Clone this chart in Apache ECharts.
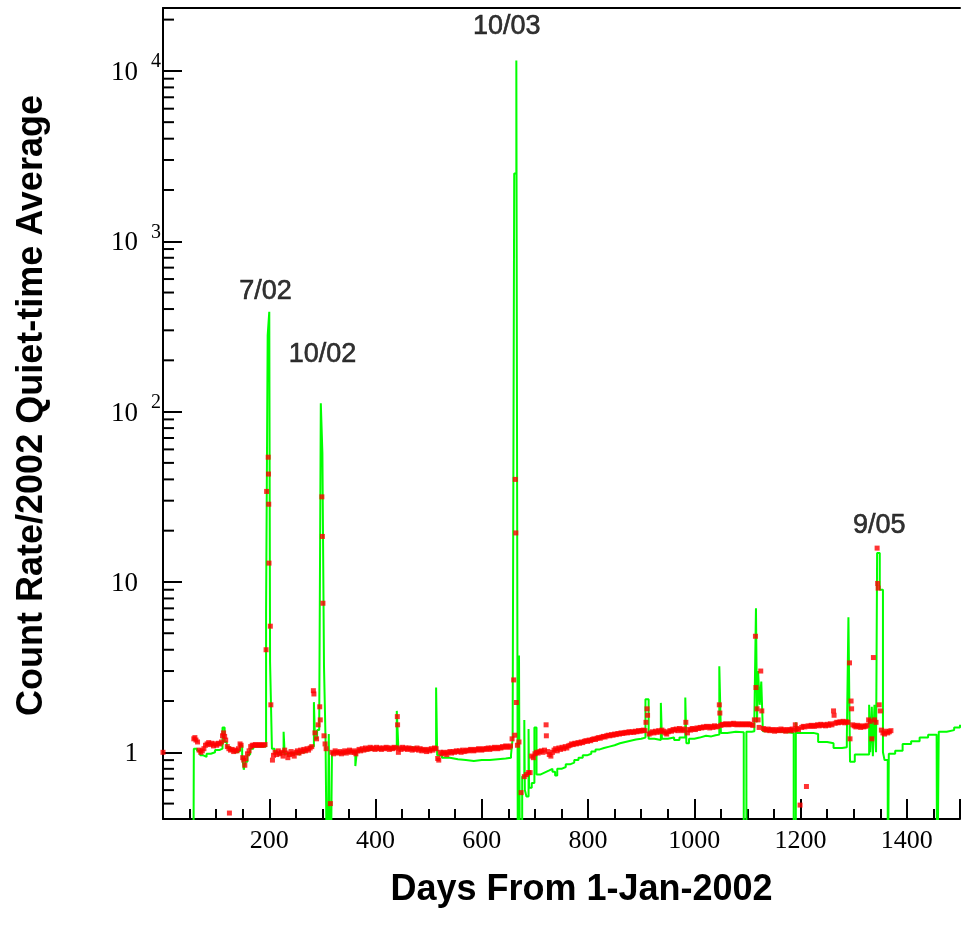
<!DOCTYPE html>
<html>
<head>
<meta charset="utf-8">
<script src="https://cdn.jsdelivr.net/npm/echarts/dist/echarts.min.js"></script>
<style>
html,body{margin:0;padding:0;background:#fff;}
#chart{width:963px;height:935px;}
</style>
</head>
<body>
<div id="chart"></div>
<script>
// ---- data ----
const xTitle = 'Days From 1-Jan-2002';
const yTitle = 'Count Rate/2002 Quiet-time Average';
const xMin = 0, xMax = 1500;
const yMin = 0.406, yMax = 23400;
const yMinorTickValues = [0.5,0.6,0.7,0.8,0.9,2,3,4,5,6,7,8,9,20,30,40,50,60,70,80,90,200,300,400,500,600,700,800,900,2000,3000,4000,5000,6000,7000,8000,9000,20000];

const annotationLabels = ['7/02','10/02','10/03','9/05'];
const annotationDays = [194, 301, 648, 1349];
const annotationValues = [505, 216, 18200, 21.3];

// green: step histogram [day, ratio]
const greenData = [
[57,0.1],[58,1.05],[64,1.02],[70,0.96],[76,0.94],[82,0.98],[90,1.0],[98,1.03],[106,1.05],[112,1.4],[116,1.15],[120,1.07],[127,1.03],[134,1.0],[140,1.02],[145,1.1],[149,0.95],[152,0.79],[155,0.88],[159,0.97],[164,1.05],[170,1.08],
[194,6.8],[197,280],[200,385],[201.5,3.4],[205,1.05],[210,1.0],[216,0.97],[222,1.0],[227,1.32],[229,0.98],[238,0.99],[248,0.97],[258,1.0],[268,1.03],[276,1.08],[284,1.97],[286,1.2],[290,1.35],[294,1.5],[297,112],[300,57],[303,3.2],[306,1.15],[309,0.1],[312,1.28],[315,0.1],[318,1.0],[328,0.98],[340,1.0],[352,1.01],[362,0.83],[365,1.02],[375,1.03],[390,1.04],[405,1.05],[420,1.04],[432,1.06],[440,1.75],[443,1.05],[455,1.07],[470,1.05],[485,1.04],[500,1.05],[510,1.06],[514,2.4],[516,0.96],[525,0.93],[540,0.91],[555,0.9],[570,0.89],[585,0.9],[600,0.9],[615,0.91],[630,0.92],[645,0.93],[655,0.97],[658,1.2],
[661,2500],[665,11500],[668,0.1],[670,3.7],[672,0.1],[676,0.72],[680,1.55],[681,0.6],[684,0.55],[688,1.37],[689,0.62],[694,0.66],[699,1.4],[703,0.74],[710,0.76],[718,0.78],[726,0.8],[733,0.77],[738,0.73],[742,0.8],[750,0.82],[758,0.85],[766,0.87],[774,0.9],[782,0.93],[790,0.96],[798,0.98],[806,1.01],[814,1.04],[822,1.06],[830,1.08],[840,1.1],[850,1.13],[860,1.15],[870,1.17],[880,1.19],[890,1.2],[900,1.22],[908,2.05],[914,1.2],[925,1.18],[937,1.95],[939,1.2],[950,1.22],[962,1.18],[972,1.22],[983,2.1],[985,1.13],[990,1.2],[1000,1.22],[1010,1.25],[1022,1.24],[1032,1.26],[1040,1.27],[1047,3.2],[1050,1.3],[1062,1.32],[1078,1.31],[1093,0.1],[1098,1.32],[1108,1.33],[1113,1.6],[1116,7.0],[1118,1.5],[1120,3.0],[1123,1.9],[1126,2.6],[1129,1.33],[1142,1.32],[1160,1.31],[1175,1.3],[1187,0.1],[1191,1.5],[1193,1.3],[1210,1.3],[1224,1.28],[1233,1.15],[1250,1.13],[1262,1.06],[1278,1.07],[1287,1.2],[1290,6.2],[1293,0.88],[1302,0.97],[1318,0.97],[1329,1.9],[1331,1.0],[1334,1.85],[1336,0.95],[1339,1.9],[1342,1.0],[1344,14.8],[1349,9.0],[1355,1.0],[1358,0.9],[1364,0.1],[1366,0.98],[1378,1.02],[1392,1.12],[1408,1.16],[1424,1.22],[1440,1.27],[1456,1.3],[1457,0.1],[1460,1.32],[1475,1.35],[1489,1.4],[1500,1.45]
];

// red: individual points [day, ratio]
const redData = [
[0,1.0],[125,0.44],
[58,1.2],[60,1.22],[62,1.18],[65,1.15],[68,1.03],[71,1.0],[74,1.02],[77,1.05],[80,1.1],[83,1.12],[86,1.14],[89,1.11],[92,1.13],[95,1.09],[98,1.12],[101,1.1],[104,1.13],[107,1.12],[110,1.15],[112,1.25],[114,1.3],[116,1.24],[118,1.18],[121,1.08],[124,1.05],[127,1.03],[130,1.04],[133,1.01],[136,1.03],[139,1.02],[142,1.05],[145,1.12],[147,1.1],[150,0.93],[152,0.9],[154,0.84],[156,0.92],[159,0.98],[162,1.02],[165,1.08],[168,1.1],[171,1.1],[174,1.11],[177,1.1],[180,1.1],[183,1.11],[186,1.1],[189,1.1],[192,1.11],
[194,4.0],[195,34],[198,54],[198.5,43],[199,28.6],[199.5,12.9],[202,5.5],[203,1.9],
[206,0.9],[208,0.96],[211,1.0],[214,0.97],[217,1.02],[220,0.98],[223,1.0],[226,0.95],[229,1.03],[232,0.99],[235,0.93],[238,0.97],[241,1.01],[244,0.98],[247,0.95],[250,1.0],[253,1.02],[256,0.99],[259,1.03],[262,1.01],[265,1.04],[268,1.02],[271,1.05],[274,1.03],[277,1.06],[280,1.08],
[283,2.3],[284,2.2],[286,1.3],[289,1.2],[292,1.45],[295,1.85],[296,1.55],[299,31.6],[300,18.5],[301,7.5],[303,1.25],[305,1.12],[307,1.05],[315,0.5],
[318,1.0],[321,0.98],[324,1.02],[327,1.0],[330,0.99],[333,1.01],[336,0.98],[339,1.0],[342,1.02],[345,0.99],[348,1.01],[351,1.03],[354,1.0],[357,1.02],[360,1.0],[363,0.98],[366,1.02],[369,1.04],[372,1.02],[375,1.05],[378,1.03],[381,1.06],[384,1.04],[387,1.05],[390,1.07],[393,1.05],[396,1.06],[399,1.04],[402,1.07],[405,1.05],[408,1.06],[411,1.04],[414,1.06],[417,1.05],[420,1.07],[423,1.06],[426,1.04],[429,1.06],[432,1.05],[435,1.07],[438,1.06],
[441,1.62],[441.5,1.45],[443,1.0],
[445,1.06],[448,1.04],[451,1.07],[454,1.05],[457,1.06],[460,1.04],[463,1.06],[466,1.05],[469,1.03],[472,1.05],[475,1.04],[478,1.06],[481,1.03],[484,1.05],[487,1.02],[490,1.04],[493,1.03],[496,1.01],[499,1.04],[502,1.02],[505,1.05],[508,1.03],[511,1.06],[514,1.05],
[517,0.92],[519,0.9],[522,1.0],[525,0.98],[528,1.0],[531,0.99],[534,0.97],[537,1.0],[540,1.01],[543,0.99],[546,1.01],[549,1.0],[552,1.02],[555,1.01],[558,1.02],[561,1.0],[564,1.03],[567,1.01],[570,1.02],[573,1.03],[576,1.02],[579,1.04],[582,1.03],[585,1.02],[588,1.04],[591,1.03],[594,1.05],[597,1.04],[600,1.03],[603,1.05],[606,1.04],[609,1.05],[612,1.06],[615,1.04],[618,1.06],[621,1.05],[624,1.07],[627,1.06],[630,1.05],[633,1.07],[636,1.06],[639,1.08],[642,1.07],[645,1.09],[648,1.08],[651,1.07],[654,1.09],[657,1.2],
[660,2.66],[662,1.26],[663,40],[664,19.4],[665,1.96],[667,1.1],[670,1.15],[674,0.58],
[680,0.72],[684,0.74],[688,0.76],[691,0.76],[694,0.95],[697,0.93],[700,0.98],[703,1.0],[706,0.99],[709,1.01],[712,1.02],[715,1.0],[718,1.03],[721,1.45],[721.5,1.25],[724,1.01],[727,0.97],[730,0.95],[733,1.0],[736,1.03],[739,1.05],[742,1.02],[745,1.06],[748,1.04],[751,1.07],[754,1.05],[757,1.08],[760,1.06],[763,1.09],[766,1.1],[769,1.12],[772,1.11],[775,1.13],[778,1.12],[781,1.14],[784,1.13],[787,1.15],[790,1.14],[793,1.16],[796,1.17],[799,1.16],[802,1.18],[805,1.17],[808,1.19],[811,1.2],[814,1.19],[817,1.21],[820,1.22],[823,1.21],[826,1.23],[829,1.24],[832,1.23],[835,1.25],[838,1.26],[841,1.25],[844,1.27],[847,1.26],[850,1.28],[853,1.27],[856,1.29],[859,1.28],[862,1.3],[865,1.29],[868,1.3],[871,1.31],[874,1.3],[877,1.32],[880,1.31],[883,1.32],[886,1.31],[889,1.33],[892,1.32],[895,1.34],[898,1.33],[901,1.34],[904,1.35],[907,1.34],[909,1.5],[911,1.8],[912,1.65],[915,1.28],[918,1.3],[921,1.32],[924,1.3],[927,1.33],[930,1.31],[933,1.34],[936,1.32],[939,1.35],[942,1.33],[945,1.3],[948,1.28],[951,1.32],[954,1.34],[957,1.33],[960,1.36],[963,1.35],[966,1.37],[969,1.34],[972,1.38],[975,1.36],[978,1.34],[981,1.37],[984,1.5],[987,1.3],[990,1.36],[993,1.35],[996,1.38],[999,1.37],
[1002,1.36],[1005,1.39],[1008,1.38],[1011,1.4],[1014,1.39],[1017,1.41],[1020,1.4],[1023,1.42],[1026,1.41],[1029,1.39],[1032,1.42],[1035,1.4],[1038,1.43],[1041,1.41],[1044,1.42],[1047,1.9],[1048,1.7],[1050,1.44],[1053,1.46],[1056,1.45],[1059,1.47],[1062,1.46],[1065,1.45],[1068,1.47],[1071,1.46],[1074,1.48],[1077,1.46],[1080,1.45],[1083,1.47],[1086,1.46],[1089,1.45],[1092,1.47],[1095,1.46],[1098,1.45],[1101,1.47],[1104,1.46],[1107,1.45],[1110,1.44],[1113,1.55],[1115,4.8],[1116,2.4],[1118,1.8],[1120,1.55],[1122,1.4],[1125,3.0],[1127,1.75],[1130,1.38],[1133,1.36],[1136,1.35],[1139,1.37],[1142,1.34],[1145,1.36],[1148,1.35],[1151,1.33],[1154,1.36],[1157,1.34],[1160,1.35],[1163,1.37],[1166,1.34],[1169,1.36],[1172,1.33],[1175,1.35],[1178,1.36],[1181,1.34],[1184,1.37],[1187,1.35],[1190,1.45],[1193,1.38],[1196,1.36],[1199,0.49],[1202,1.4],[1205,1.42],[1208,1.41],[1211,0.63],[1214,1.43],[1217,1.42],[1220,1.44],[1223,1.43],[1226,1.42],[1229,1.44],[1232,1.45],[1235,1.43],[1238,1.46],[1241,1.44],[1244,1.45],[1247,1.43],[1250,1.46],[1253,1.44],[1256,1.47],[1259,1.45],[1262,1.75],[1263,1.65],[1265,1.48],[1268,1.5],[1271,1.49],[1274,1.51],[1277,1.5],[1280,1.52],[1283,1.49],[1286,1.51],[1289,1.5],[1292,3.35],[1293,1.2],[1295,2.0],[1296,1.8],[1298,1.45],[1301,1.43],[1304,1.41],[1307,1.44],[1310,1.42],[1313,1.4],[1316,1.43],[1319,1.41],[1322,1.42],[1325,1.44],[1328,1.55],[1331,1.52],[1334,1.2],[1337,3.6],[1339,1.55],[1342,1.5],[1344,15.8],[1345,9.8],[1346,9.2],[1348,1.9],[1350,1.75],[1352,1.35],[1355,1.3],[1358,1.28],[1361,1.33],[1364,1.3],[1367,1.32],[1370,1.34]
];

// ---- chart ----
const chart = echarts.init(document.getElementById('chart'), null, {renderer:'canvas'});
const black = '#000';
const serif = "'Liberation Serif','Times New Roman',serif";
const sans = "'Liberation Sans',Arial,Helvetica,sans-serif";

function isPow10(v){ const l = Math.log10(v); return Math.abs(l - Math.round(l)) < 1e-6; }

const option = {
  animation: false,
  backgroundColor: '#fff',
  grid: {left: 163, top: 8, right: 0, bottom: 116, containLabel: false},
  xAxis: [
    {
      type: 'value', min: xMin, max: xMax, interval: 200, position: 'bottom',
      axisLine: {show: true, onZero: false, lineStyle: {color: black, width: 2}},
      axisTick: {show: true, inside: true, length: 20, lineStyle: {color: black, width: 2}},
      splitLine: {show: false},
      axisLabel: {
        margin: 9, color: black, fontFamily: serif, fontSize: 26,
        formatter: v => (v === 0 || v === xMax) ? '' : String(v)
      },
      name: xTitle, nameLocation: 'middle', nameGap: 53,
      nameTextStyle: {fontFamily: sans, fontWeight: 'bold', fontSize: 36, color: black, padding: [0,0,0,40]}
    },
    {
      type: 'value', min: xMin, max: xMax, interval: 50, position: 'bottom',
      axisLine: {show: false, onZero: false},
      axisTick: {show: true, inside: true, length: 10, lineStyle: {color: black, width: 2}},
      axisLabel: {show: false}, splitLine: {show: false}
    },
    {
      type: 'value', min: xMin, max: xMax, position: 'top',
      axisLine: {show: true, onZero: false, lineStyle: {color: black, width: 2}},
      axisTick: {show: false}, axisLabel: {show: false}, splitLine: {show: false}
    }
  ],
  yAxis: [
    {
      type: 'log', logBase: 10, min: yMin, max: yMax, splitNumber: 5,
      axisLine: {show: true, onZero: false, lineStyle: {color: black, width: 2}},
      axisTick: {show: true, inside: true, length: 19, lineStyle: {color: black, width: 2}},
      splitLine: {show: false},
      axisLabel: {
        margin: 2, color: black, align: 'right',
        formatter: v => {
          if (!isPow10(v)) return '';
          const e = Math.round(Math.log10(v));
          if (e === 0) return '{b|1}{sp|}';
          if (e === 1) return '{b|10}{sp|}';
          return '{b|10}{s|' + e + '}';
        },
        rich: {
          b: {fontFamily: serif, fontSize: 27, color: black, lineHeight: 28, padding: [4,0,0,0]},
          s: {fontFamily: serif, fontSize: 20, color: black, width: 11, padding: [0,0,18,12], lineHeight: 20},
          sp: {width: 23}
        }
      },
      name: yTitle, nameLocation: 'middle', nameGap: 113, nameRotate: 90,
      nameTextStyle: {fontFamily: sans, fontWeight: 'bold', fontSize: 36, color: black, padding: [0,0,0,16]}
    }
  ],
  series: [
    {
      name: 'minorTicksY', type: 'custom', xAxisIndex: 0, yAxisIndex: 0, silent: true, clip: false,
      data: yMinorTickValues.map(v => [xMin, v]),
      renderItem: (params, api) => {
        const p = api.coord([api.value(0), api.value(1)]);
        return {type: 'line', shape: {x1: p[0], y1: p[1], x2: p[0] + 11, y2: p[1]},
                style: {stroke: black, lineWidth: 2}};
      },
      z: 5
    },
    {
      name: 'green', type: 'line', step: 'end', data: greenData, showSymbol: false, symbol: 'none',
      lineStyle: {color: '#00ff00', width: 2}, clip: true, z: 2
    },
    {
      name: 'red', type: 'scatter', data: redData, symbol: 'rect', symbolSize: 5,
      itemStyle: {color: '#ff0000'}, clip: true, z: 3
    },
    {
      name: 'events', type: 'scatter', symbolSize: 1, silent: true,
      itemStyle: {color: 'rgba(0,0,0,0)'},
      data: annotationLabels.map((t, i) => ({name: t, value: [annotationDays[i], annotationValues[i]]})),
      label: {show: true, position: [0, 0], align: 'center', verticalAlign: 'middle', formatter: '{b}',
              fontFamily: sans, fontSize: 27, color: '#000', textBorderColor: '#000', textBorderWidth: 0.6},
      z: 4
    }
  ]
};
chart.setOption(option);
</script>
</body>
</html>
